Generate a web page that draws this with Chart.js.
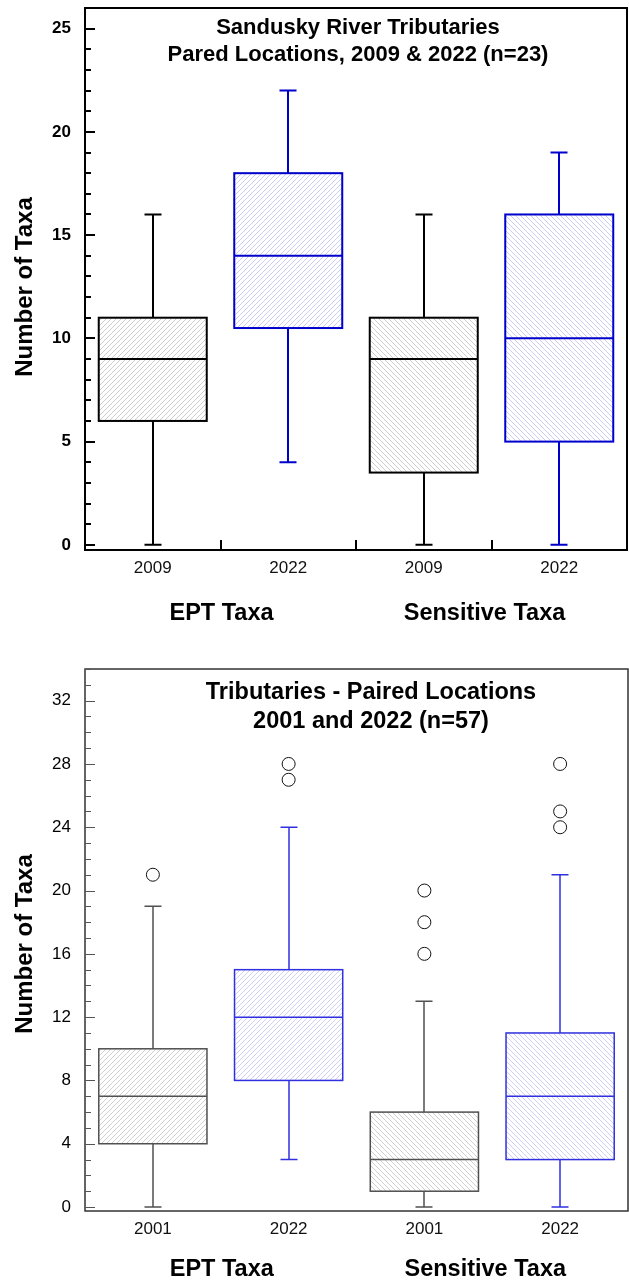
<!DOCTYPE html>
<html>
<head>
<meta charset="utf-8">
<title>Number of Taxa – Paired Locations</title>
<script src="https://cdn.jsdelivr.net/npm/chart.js@4.4.0/dist/chart.umd.min.js"></script>
<style>
  html, body { margin: 0; padding: 0; background: #fff; }
  #wrap { position: relative; width: 629px; height: 1281px; }
  .panel { position: absolute; left: 0; width: 629px; }
</style>
</head>
<body>
<div id="wrap">
  <div class="panel" style="top:0;height:640px"><canvas id="c1"></canvas></div>
  <div class="panel" style="top:640px;height:641px"><canvas id="c2"></canvas></div>
</div>
<script>
// ---- shared categories ----
const groupLabels = ['EPT Taxa', 'Sensitive Taxa'];

// ---- Sandusky River tributaries, 2009 & 2022 (n=23) ----
const years1 = ['2009', '2022', '2009', '2022'];
const min1 = [0, 4, 0, 0];
const q1s1 = [6, 10.5, 3.5, 5];
const med1 = [9, 14, 9, 10];
const q3s1 = [11, 18, 11, 16];
const max1 = [16, 22, 16, 19];
const out1 = [[], [], [], []];
const yTicks1 = [0, 5, 10, 15, 20, 25];
const title1 = ['Sandusky River Tributaries', 'Pared Locations, 2009 & 2022 (n=23)'];

// ---- Tributaries, 2001 & 2022 (n=57) ----
const years2 = ['2001', '2022', '2001', '2022'];
const min2 = [0, 3, 0, 0];
const q1s2 = [4, 8, 1, 3];
const med2 = [7, 12, 3, 7];
const q3s2 = [10, 15, 6, 11];
const max2 = [19, 24, 13, 21];
const out2 = [[21], [27, 28], [16, 18, 20], [24, 25, 28]];
const yTicks2 = [0, 4, 8, 12, 16, 20, 24, 28, 32];
const title2 = ['Tributaries - Paired Locations', '2001 and 2022 (n=57)'];

const FONT = "'Liberation Sans', Arial, Helvetica, sans-serif";

// diagonal hatch fill; dir 1 = "/", dir -1 = "\"
function hatch(color, dir) {
  const n = 5;
  const c = document.createElement('canvas');
  c.width = n; c.height = n;
  const g = c.getContext('2d');
  g.fillStyle = '#fff';
  g.fillRect(0, 0, n, n);
  g.fillStyle = color;
  for (let i = 0; i < n; i++) {
    g.fillRect(i, dir > 0 ? n - 1 - i : i, 1, 1);
  }
  return g.createPattern(c, 'repeat');
}

// whiskers, medians, box outlines, frame, inward ticks and in-plot text
const boxPlugin = {
  id: 'boxplot',
  afterDatasetsDraw(chart, args, o) {
    const { ctx, chartArea: a, scales: { x, y } } = chart;
    const bars = chart.getDatasetMeta(0).data;
    ctx.save();
    ctx.lineCap = 'butt';
    bars.forEach((bar, i) => {
      const cx = Math.round(bar.x);
      const half = bar.width / 2;
      const pMin = y.getPixelForValue(o.stats.min[i]);
      const pQ1 = y.getPixelForValue(o.stats.q1[i]);
      const pMed = y.getPixelForValue(o.stats.med[i]);
      const pQ3 = y.getPixelForValue(o.stats.q3[i]);
      const pMax = y.getPixelForValue(o.stats.max[i]);
      ctx.strokeStyle = o.colors[i];
      ctx.lineWidth = o.lineW;
      ctx.beginPath();
      ctx.moveTo(cx, pQ3); ctx.lineTo(cx, pMax);
      ctx.moveTo(cx - o.cap / 2, pMax); ctx.lineTo(cx + o.cap / 2, pMax);
      ctx.moveTo(cx, pQ1); ctx.lineTo(cx, pMin);
      ctx.moveTo(cx - o.cap / 2, pMin); ctx.lineTo(cx + o.cap / 2, pMin);
      ctx.moveTo(bar.x - half, pMed); ctx.lineTo(bar.x + half, pMed);
      ctx.stroke();
      ctx.strokeRect(bar.x - half, pQ3, bar.width, pQ1 - pQ3);
    });

    // frame
    ctx.strokeStyle = o.frameColor;
    ctx.lineWidth = o.frameW;
    ctx.strokeRect(a.left, a.top, a.right - a.left, a.bottom - a.top);

    // y ticks pointing into the plot (major + one-unit minors)
    ctx.strokeStyle = o.tickColor;
    ctx.lineWidth = o.tickW;
    ctx.beginPath();
    for (let v = Math.ceil(y.min); v <= y.max; v += 1) {
      const py = Math.round(y.getPixelForValue(v)) + (o.tickW % 2 ? 0.5 : 0);
      const len = o.majors.includes(v) ? o.majorLen : o.minorLen;
      ctx.moveTo(a.left, py); ctx.lineTo(a.left + len, py);
    }
    // x ticks between categories
    if (o.xTicks) {
      const n = x.getLabels().length;
      for (let i = 0; i < n - 1; i++) {
        const px = Math.round((x.getPixelForTick(i) + x.getPixelForTick(i + 1)) / 2);
        ctx.moveTo(px, a.bottom); ctx.lineTo(px, a.bottom - o.xTickLen);
      }
    }
    ctx.stroke();
    ctx.restore();
  },
  afterDraw(chart, args, o) {
    const { ctx, scales: { x } } = chart;
    ctx.save();
    ctx.fillStyle = '#000';
    // title inside the frame
    ctx.font = 'bold ' + o.titleSize + 'px ' + FONT;
    ctx.textAlign = 'center';
    ctx.textBaseline = 'alphabetic';
    o.title.forEach((t, i) => ctx.fillText(t, o.titleX, o.titleBase[i]));
    // group labels under the year labels
    ctx.font = 'bold ' + o.groupSize + 'px ' + FONT;
    o.groups.forEach((g, i) => {
      const mid = (x.getPixelForTick(2 * i) + x.getPixelForTick(2 * i + 1)) / 2;
      ctx.fillText(g, mid + o.groupShift[i], o.groupBase);
    });
    // y axis title
    ctx.font = 'bold ' + o.yTitleSize + 'px ' + FONT;
    ctx.translate(o.yTitleX, o.yTitleY);
    ctx.rotate(-Math.PI / 2);
    ctx.textBaseline = 'middle';
    ctx.fillText('Number of Taxa', 0, 0);
    ctx.restore();
  }
};

function makeChart(id, d, s) {
  const fills = [hatch(s.grayHatch, 1), hatch(s.blueHatch, 1), hatch(s.grayHatch, -1), hatch(s.blueHatch, -1)];
  const colors = [s.black, s.blue, s.black, s.blue];
  const datasets = [{
    type: 'bar',
    data: d.q1.map((v, i) => [v, d.q3[i]]),
    backgroundColor: fills,
    borderWidth: 0,
    barPercentage: 0.797,
    categoryPercentage: 1
  }];
  const depth = Math.max(...d.out.map(o => o.length));
  for (let k = 0; k < depth; k++) {
    datasets.push({
      type: 'line',
      data: d.out.map(o => (k < o.length ? o[k] : null)),
      showLine: false,
      pointRadius: 6.5,
      pointBorderWidth: 1,
      pointBorderColor: '#111',
      pointBackgroundColor: '#fff'
    });
  }
  const noPad = sc => { sc.paddingTop = 0; sc.paddingBottom = 0; sc.paddingLeft = 0; sc.paddingRight = 0; };
  return new Chart(document.getElementById(id), {
    type: 'bar',
    data: { labels: d.labels, datasets },
    options: {
      responsive: true,
      maintainAspectRatio: false,
      animation: false,
      layout: { autoPadding: false, padding: { top: s.top, right: s.right, left: 0, bottom: 0 } },
      plugins: {
        legend: { display: false },
        tooltip: { enabled: false },
        boxplot: {
          stats: d, colors, lineW: s.lineW, cap: 17,
          frameColor: s.frameColor, frameW: s.frameW,
          tickColor: s.tickColor, tickW: s.tickW, majorLen: 10, minorLen: 6,
          majors: d.yTicks, xTicks: s.xTicks, xTickLen: 10,
          title: d.title, titleSize: s.titleSize, titleX: s.titleX, titleBase: s.titleBase,
          groups: groupLabels, groupSize: s.groupSize, groupBase: s.groupBase, groupShift: [1, -7],
          yTitleSize: s.yTitleSize, yTitleX: 25, yTitleY: s.yTitleY
        }
      },
      scales: {
        x: {
          offset: true,
          grid: { display: false, drawTicks: false },
          border: { display: false },
          ticks: { font: { family: FONT, size: 17 }, color: '#111', padding: s.xPad, maxRotation: 0 },
          afterFit: sc => { sc.height = s.axisH; noPad(sc); }
        },
        y: {
          min: d.yMin,
          max: d.yMax,
          afterBuildTicks: sc => { sc.ticks = d.yTicks.map(v => ({ value: v })); },
          grid: { display: false, drawTicks: false },
          border: { display: false },
          ticks: { font: { family: FONT, size: 17, weight: s.yTickWeight }, color: '#000', padding: 14 },
          afterFit: sc => { sc.width = 85; noPad(sc); }
        }
      }
    },
    plugins: [boxPlugin]
  });
}

makeChart('c1',
  { labels: years1, min: min1, q1: q1s1, med: med1, q3: q3s1, max: max1, out: out1,
    yMin: -0.25, yMax: 26, yTicks: yTicks1, title: title1 },
  { top: 8, right: 2, axisH: 90, xPad: 8, lineW: 2, black: '#000', blue: '#0000cc',
    grayHatch: '#cdcdcd', blueHatch: '#cdcdf4', frameColor: '#000', frameW: 2,
    tickColor: '#000', tickW: 2, xTicks: true, yTickWeight: 'bold',
    titleSize: 22, titleX: 358, titleBase: [34, 61],
    groupSize: 23.5, groupBase: 620, yTitleSize: 24, yTitleY: 287 });

makeChart('c2',
  { labels: years2, min: min2, q1: q1s2, med: med2, q3: q3s2, max: max2, out: out2,
    yMin: -0.25, yMax: 34, yTicks: yTicks2, title: title2 },
  { top: 29, right: 1, axisH: 70, xPad: 8, lineW: 1.5, black: '#505050', blue: '#3030e0',
    grayHatch: '#d0d0d0', blueHatch: '#d0d0f6', frameColor: '#333', frameW: 1.5,
    tickColor: '#555', tickW: 1, xTicks: false, yTickWeight: 'normal',
    titleSize: 23.5, titleX: 371, titleBase: [59, 88],
    groupSize: 23.5, groupBase: 636, yTitleSize: 24, yTitleY: 304 });
</script>
</body>
</html>
